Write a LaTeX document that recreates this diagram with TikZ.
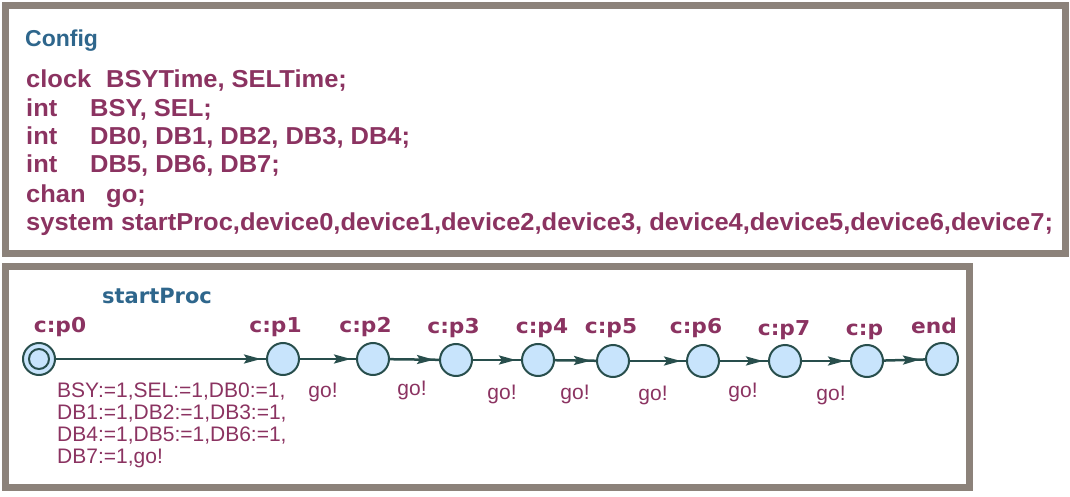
\documentclass[tikz,border=0pt]{standalone}
\usepackage{fontspec}
\setmainfont{Liberation Sans}
\newfontfamily\declfont{Liberation Sans}[FakeStretch=1.04]
\newfontfamily\locfont{DejaVu Sans}[FakeStretch=1.06]
\newfontfamily\tplfont{DejaVu Sans}
\usetikzlibrary{arrows.meta,decorations.markings}

\definecolor{framegray}{RGB}{140,130,122}
\definecolor{declred}{RGB}{139,51,97}
\definecolor{titleblue}{RGB}{46,102,140}
\definecolor{edgedark}{RGB}{40,78,76}
\definecolor{locfill}{RGB}{200,228,252}

\tikzset{
  panel/.style={draw=framegray, line width=7pt},
  decl/.style={text=declred, inner sep=0pt, anchor=base west,
    font=\declfont\fontsize{24.5}{28}\selectfont\bfseries},
  title/.style={text=titleblue, inner sep=0pt, anchor=base west},
  locname/.style={text=declred, inner sep=0pt, anchor=base,
    font=\locfont\fontsize{20.5}{23}\selectfont\bfseries},
  lbl/.style={text=declred, inner sep=0pt,
    font=\fontsize{21}{22.2}\selectfont},
  loc/.style={circle, draw=edgedark, line width=2pt, fill=locfill,
    minimum size=32pt, inner sep=0pt},
  trans/.style={draw=edgedark, line width=2.5pt,
    decoration={markings, mark=at position -5pt with
      {\arrow{Stealth[length=17pt,width=9pt,inset=3pt]}}},
    postaction={decorate}},
}

\begin{document}
\begin{tikzpicture}[x=1pt,y=-1pt]
\useasboundingbox (0,0) rectangle (1070,497);

% panel frames
\draw[panel] (5.5,5.5) rectangle (1065.5,253.5);
\draw[panel] (5.5,266.5) rectangle (969.5,487.5);

% global declarations
\node[title, font=\fontsize{23}{26}\selectfont\bfseries] (cfg) at (25,47) {Config};
\node[decl] (kw1) at (26,88)  {clock};
\node[decl] (d1)  at (106,88) {BSYTime, SELTime;};
\node[decl] (kw2) at (26,117) {int};
\node[decl] (d2)  at (90,117) {BSY, SEL;};
\node[decl] (kw3) at (26,145) {int};
\node[decl] (d3)  at (90,145) {DB0, DB1, DB2, DB3, DB4;};
\node[decl] (kw4) at (26,173) {int};
\node[decl] (d4)  at (90,173) {DB5, DB6, DB7;};
\node[decl] (kw5) at (26,202) {chan};
\node[decl] (d5)  at (106,202) {go;};
\node[decl] (d6)  at (26,230) {system startProc,device0,device1,device2,device3, device4,device5,device6,device7;};

% template startProc
\node[title, font=\tplfont\fontsize{21}{24}\selectfont\bfseries] (tpl) at (102,303) {startProc};

% locations
\node[loc] (p0) at (39,359) {};
\draw[edgedark, line width=2pt] (p0.center) circle (10pt);
\node[loc] (p1) at (283,359) {};
\node[loc] (p2) at (373,359) {};
\node[loc] (p3) at (456,360) {};
\node[loc] (p4) at (538,360) {};
\node[loc] (p5) at (613,361) {};
\node[loc] (p6) at (703,361) {};
\node[loc] (p7) at (785,361) {};
\node[loc] (pp) at (867,361) {};
\node[loc] (pend) at (942,359) {};

% location names
\node[locname] (n0) at (60,332)  {c:p0};
\node[locname] (n1) at (275.5,332) {c:p1};
\node[locname] (n2) at (365.5,332) {c:p2};
\node[locname] (n3) at (453.5,333) {c:p3};
\node[locname] (n4) at (542,333) {c:p4};
\node[locname] (n5) at (611,333) {c:p5};
\node[locname] (n6) at (696,333) {c:p6};
\node[locname] (n7) at (784,335) {c:p7};
\node[locname] (n8) at (864.5,335) {c:p};
\node[locname] (n9) at (934,333) {end};

% transitions
\draw[trans] (p0) -- (p1);
\draw[trans] (p1) -- (p2);
\draw[trans] (p2) -- (p3);
\draw[trans] (p3) -- (p4);
\draw[trans] (p4) -- (p5);
\draw[trans] (p5) -- (p6);
\draw[trans] (p6) -- (p7);
\draw[trans] (p7) -- (pp);
\draw[trans] (pp) -- (pend);

% transition labels
\node[lbl, anchor=base west] (u0) at (57,397)
  {\begin{tabular}[t]{@{}l@{}}BSY:=1,SEL:=1,DB0:=1,\\DB1:=1,DB2:=1,DB3:=1,\\DB4:=1,DB5:=1,DB6:=1,\\DB7:=1,go!\end{tabular}};
\node[lbl, anchor=base] (g1) at (323,397) {go!};
\node[lbl, anchor=base] (g2) at (412,395) {go!};
\node[lbl, anchor=base] (g3) at (502,399) {go!};
\node[lbl, anchor=base] (g4) at (575,399) {go!};
\node[lbl, anchor=base] (g5) at (653,400) {go!};
\node[lbl, anchor=base] (g6) at (743,397) {go!};
\node[lbl, anchor=base] (g7) at (831,400) {go!};
\end{tikzpicture}
\end{document}
